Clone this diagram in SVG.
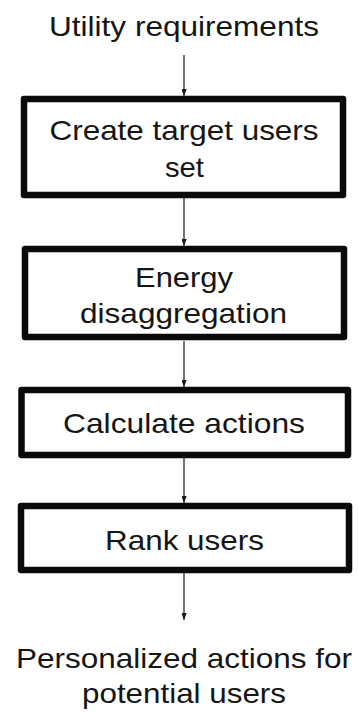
<svg xmlns="http://www.w3.org/2000/svg" width="358" height="713" viewBox="0 0 358 713">
  <style>
    .label { font-family: "Liberation Sans", Arial, sans-serif; font-size: 28.5px; fill: #151515; text-anchor: middle; }
    .box { fill: #ffffff; stroke: #0a0a0a; stroke-width: 6.5; stroke-linejoin: round; }
    .flow { stroke: #2a2a2a; stroke-width: 1.3; fill: none; marker-end: url(#head); }
  </style>
  <defs>
    <marker id="head" markerUnits="userSpaceOnUse" markerWidth="14" markerHeight="16" viewBox="-7 -14 14 16" refX="0" refY="0" orient="auto">
      <path d="M0,0 L-5,-13 L0,-9 L5,-13 Z" transform="rotate(-90)" fill="#1a1a1a"/>
    </marker>
  </defs>
  <rect width="358" height="713" fill="#ffffff"/>

  <g id="input">
    <text class="label" x="184" y="36" textLength="270" lengthAdjust="spacingAndGlyphs">Utility requirements</text>
  </g>

  <g id="create-target">
    <rect class="box" x="24" y="99" width="319" height="96"/>
    <text class="label" x="184" y="140" textLength="269" lengthAdjust="spacingAndGlyphs">Create target users</text>
    <text class="label" x="184.5" y="177" textLength="39" lengthAdjust="spacingAndGlyphs">set</text>
  </g>

  <g id="disaggregation">
    <rect class="box" x="25" y="249" width="319" height="88"/>
    <text class="label" x="184" y="287" textLength="98" lengthAdjust="spacingAndGlyphs">Energy</text>
    <text class="label" x="183.5" y="323" textLength="207" lengthAdjust="spacingAndGlyphs">disaggregation</text>
  </g>

  <g id="calculate">
    <rect class="box" x="21.5" y="390" width="326.5" height="65"/>
    <text class="label" x="184" y="433" textLength="242" lengthAdjust="spacingAndGlyphs">Calculate actions</text>
  </g>

  <g id="rank">
    <rect class="box" x="21" y="506" width="328" height="64"/>
    <text class="label" x="184.5" y="550" textLength="159" lengthAdjust="spacingAndGlyphs">Rank users</text>
  </g>

  <g id="output">
    <text class="label" x="184" y="668" textLength="336" lengthAdjust="spacingAndGlyphs">Personalized actions for</text>
    <text class="label" x="184" y="703" textLength="204" lengthAdjust="spacingAndGlyphs">potential users</text>
  </g>

  <g id="connectors">
    <line class="flow" x1="184" y1="55" x2="184" y2="96"/>
    <line class="flow" x1="184" y1="198" x2="184" y2="246"/>
    <line class="flow" x1="184" y1="341" x2="184" y2="387"/>
    <line class="flow" x1="184" y1="458" x2="184" y2="503"/>
    <line class="flow" x1="184" y1="573" x2="184" y2="620"/>
  </g>
</svg>
